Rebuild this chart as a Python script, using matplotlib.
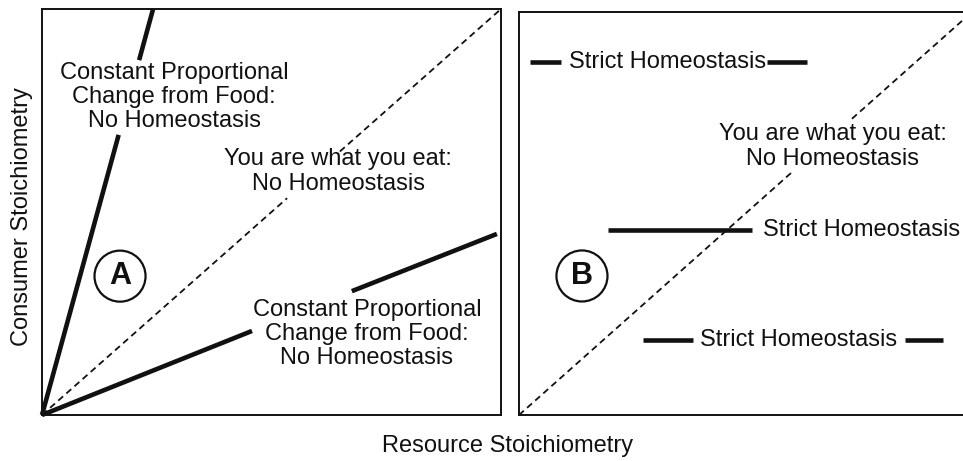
import matplotlib
matplotlib.use("Agg")
import matplotlib.pyplot as plt

plt.rcParams['font.family'] = ['Liberation Sans', 'DejaVu Sans']

# panel A lines (axes fraction, 0..1), broken where labels sit
steep_low_x = [0.0, 0.167]
steep_low_y = [0.0, 0.69]
steep_top_x = [0.2116, 0.242]
steep_top_y = [0.874, 1.0]

shallow_low_x = [0.0, 0.4575]
shallow_low_y = [0.0, 0.207]
shallow_top_x = [0.675, 0.991]
shallow_top_y = [0.305, 0.446]

diagA_low = [0.0, 0.534]
diagA_top = [0.649, 1.0]

# panel B
diagB_low = [0.0, 0.605]
diagB_top = [0.735, 1.0]

# strict homeostasis bars: (y, [x segments], text x)
strict_y = [0.876, 0.459, 0.186]
strict_segments = [
    [(0.024, 0.093), (0.547, 0.636)],
    [(0.196, 0.514)],
    [(0.274, 0.384), (0.852, 0.936)],
]
strict_text_x = [0.110, 0.539, 0.400]

ink = '#111111'
fs = 17
lsp = 1.13


def boxFrame(ax):
    ax.set_xlim(0, 1)
    ax.set_ylim(0, 1)
    ax.set_xticks([])
    ax.set_yticks([])
    for sp in ax.spines.values():
        sp.set_linewidth(1.4)
        sp.set_color(ink)


def main():
    fig = plt.figure(figsize=(9.63, 4.61), dpi=100)
    axA = fig.add_axes([42 / 963, 46 / 461, 459 / 963, 406 / 461])
    axB = fig.add_axes([519 / 963, 46 / 461, 453 / 963, 403 / 461])
    boxFrame(axA)
    boxFrame(axB)

    # ---- Panel A
    solid = dict(color=ink, lw=3.3, solid_capstyle='butt', clip_on=False)
    dashed = dict(color=ink, lw=1.3, dashes=(3.6, 2.4), clip_on=False)
    axA.plot(steep_low_x, steep_low_y, **solid)
    axA.plot(steep_top_x, steep_top_y, **solid)
    axA.plot(shallow_low_x, shallow_low_y, **solid)
    axA.plot(shallow_top_x, shallow_top_y, **solid)
    axA.plot(diagA_low, diagA_low, **dashed)
    axA.plot(diagA_top, diagA_top, **dashed)

    axA.text(0.2876, 0.783, "Constant Proportional\nChange from Food:\nNo Homeostasis",
             ha='center', va='center', fontsize=fs, color=ink, linespacing=lsp)
    axA.text(0.645, 0.60, "You are what you eat:\nNo Homeostasis",
             ha='center', va='center', fontsize=fs, color=ink, linespacing=lsp)
    axA.text(0.708, 0.20, "Constant Proportional\nChange from Food:\nNo Homeostasis",
             ha='center', va='center', fontsize=fs, color=ink, linespacing=lsp)

    axA.scatter([0.17], [0.342], s=1350, facecolors='none', edgecolors=ink, linewidths=1.6)
    axA.text(0.17, 0.342, "A", ha='center', va='center', fontsize=22,
             fontweight='bold', color=ink)

    # ---- Panel B
    axB.plot(diagB_low, diagB_low, **dashed)
    axB.plot(diagB_top, diagB_top, **dashed)
    for y, segs, tx in zip(strict_y, strict_segments, strict_text_x):
        for x0, x1 in segs:
            axB.plot([x0, x1], [y, y], **solid)
        axB.text(tx, y, "Strict Homeostasis", ha='left', va='center',
                 fontsize=fs, color=ink)

    axB.text(0.693, 0.666, "You are what you eat:\nNo Homeostasis",
             ha='center', va='center', fontsize=fs, color=ink, linespacing=lsp)

    axB.scatter([0.139], [0.345], s=1350, facecolors='none', edgecolors=ink, linewidths=1.6)
    axB.text(0.139, 0.345, "B", ha='center', va='center', fontsize=22,
             fontweight='bold', color=ink)

    # axis titles
    fig.text(22 / 963, 1 - 217 / 461, "Consumer Stoichiometry", rotation=90,
             ha='center', va='center', fontsize=fs, color=ink)
    fig.text(508 / 963, 1 - 446 / 461, "Resource Stoichiometry",
             ha='center', va='center', fontsize=fs, color=ink)

    fig.savefig("out.png", dpi=100)


if __name__ == '__main__':
    main()
